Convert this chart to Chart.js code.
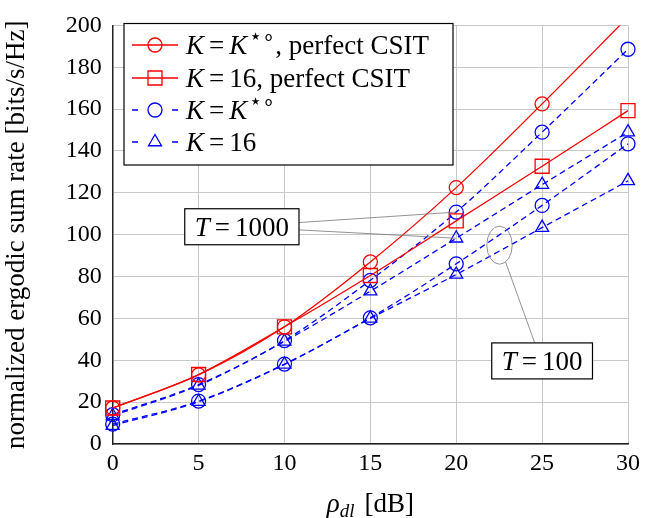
<!DOCTYPE html>
<html>
<head>
<meta charset="utf-8">
<script src="https://cdn.jsdelivr.net/npm/chart.js@4.4.1/dist/chart.umd.min.js"></script>
<style>
  html, body { margin: 0; padding: 0; background: #fff; }
</style>
</head>
<body>
<canvas id="rateChart" width="645" height="518"></canvas>
<script>
// x values (rho_dl in dB) and the series
const snrDb = [0, 5, 10, 15, 20, 25, 30];
const koptPerfect = [17.2, 33, 56, 87, 122.5, 162.5, 204];
const k16Perfect = [17.2, 33.2, 56, 80.5, 106.6, 132.7, 159.3];
const koptT1000 = [14, 28.4, 49.4, 78.2, 110.8, 149, 188.6];
const k16T1000 = [13.5, 28, 49, 73, 98.3, 123.9, 149];
const koptT100 = [9.5, 20.5, 38.2, 60.3, 86.1, 114, 143.4];
const k16T100 = [8.8, 20.2, 38, 60, 81, 103.4, 125.7];

const xTicks = [0, 5, 10, 15, 20, 25, 30];
const yTicks = [0, 20, 40, 60, 80, 100, 120, 140, 160, 180, 200];

const RED = '#ff0000';
const BLUE = '#0000ff';
const SERIF = '"Liberation Serif", "Times New Roman", serif';
const DASH = [6, 4];
const FS = 27; // text size used in legend, callouts and titles

function pts(values) {
  return snrDb.map((x, i) => ({ x: x, y: values[i] }));
}

function series(values, color, style, radius, dashed, clip) {
  return {
    data: pts(values),
    borderColor: color,
    borderWidth: 1.3,
    borderDash: dashed ? DASH : [],
    pointStyle: style,
    pointRadius: radius,
    pointBorderWidth: 1.3,
    pointBorderColor: color,
    pointBackgroundColor: 'rgba(0,0,0,0)',
    cubicInterpolationMode: 'monotone',
    fill: false,
    clip: clip || { left: 14, right: 14, top: 14, bottom: 14 }
  };
}

// draw a run of text pieces (italic math letters, super/subscripts)
function drawPieces(ctx, x, y, pieces) {
  let cx = x;
  pieces.forEach(p => {
    ctx.font = (p.italic ? 'italic ' : '') + p.size + 'px ' + SERIF;
    ctx.fillText(p.text, cx, y + (p.dy || 0));
    cx += ctx.measureText(p.text).width + (p.gap || 0);
  });
  return cx;
}

function piecesWidth(ctx, pieces) {
  let w = 0;
  pieces.forEach(p => {
    ctx.font = (p.italic ? 'italic ' : '') + p.size + 'px ' + SERIF;
    w += ctx.measureText(p.text).width + (p.gap || 0);
  });
  return w;
}

function kEquals(rest) {
  return [{ text: 'K', italic: true, size: FS, gap: 5 }, { text: '=', size: FS, gap: 5 }].concat(rest);
}
const kStar = [{ text: 'K', italic: true, size: FS, gap: 2 }, { text: '\u22C6\u2218', size: 21, dy: -11, gap: 0 }];

const legendRows = [
  { color: RED, dashed: false, style: 'circle', radius: 7,
    label: kEquals(kStar.concat([{ text: ', perfect CSIT', size: FS }])) },
  { color: RED, dashed: false, style: 'rect', radius: 9.9,
    label: kEquals([{ text: '16, perfect CSIT', size: FS }]) },
  { color: BLUE, dashed: true, style: 'circle', radius: 7, label: kEquals(kStar) },
  { color: BLUE, dashed: true, style: 'triangle', radius: 7.5,
    label: kEquals([{ text: '16', size: FS }]) }
];

function mathLabel(letter, value) {
  return [
    { text: letter, italic: true, size: FS, gap: 5 }, { text: '=', size: FS, gap: 5 },
    { text: value, size: FS }
  ];
}

function callout(ctx, cx, cy, pieces, w) {
  ctx.fillStyle = '#fff';
  ctx.fillRect(cx - w / 2, cy - 18, w, 36);
  ctx.strokeStyle = '#000';
  ctx.lineWidth = 1.2;
  ctx.strokeRect(cx - w / 2, cy - 18, w, 36);
  ctx.fillStyle = '#000';
  const tw = piecesWidth(ctx, pieces);
  drawPieces(ctx, cx - tw / 2, cy + 9, pieces);
}

const overlayPlugin = {
  id: 'overlay',
  afterDatasetsDraw(chart) {
    const ctx = chart.ctx;
    const xs = chart.scales.x;
    const ys = chart.scales.y;
    ctx.save();
    ctx.textBaseline = 'alphabetic';

    // T = 1000 callout
    const t1 = mathLabel('T', '1000');
    const w1 = piecesWidth(ctx, t1) + 20;
    const c1x = xs.getPixelForValue(7.52);
    const c1y = ys.getPixelForValue(103.8);
    const r1 = c1x + w1 / 2;
    ctx.strokeStyle = '#777';
    ctx.lineWidth = 0.8;
    ctx.beginPath();
    ctx.moveTo(r1, ys.getPixelForValue(105.8));
    ctx.lineTo(xs.getPixelForValue(snrDb[4]), ys.getPixelForValue(koptT1000[4]));
    ctx.moveTo(r1, ys.getPixelForValue(102.3));
    ctx.lineTo(xs.getPixelForValue(snrDb[4]), ys.getPixelForValue(k16T1000[4]));
    ctx.stroke();
    callout(ctx, c1x, c1y, t1, w1);

    // T = 100 callout with ellipse
    const t2 = mathLabel('T', '100');
    const w2 = piecesWidth(ctx, t2) + 20;
    const c2x = xs.getPixelForValue(25.0);
    const c2y = ys.getPixelForValue(39.7);
    const ex = xs.getPixelForValue(22.52);
    const ey = ys.getPixelForValue(95);
    const rx = 12.7, ry = 19;
    const tx = xs.getPixelForValue(24.57);
    const ty = c2y - 18;
    const dx = tx - ex, dy = ty - ey;
    const t = 1 / Math.sqrt((dx / rx) ** 2 + (dy / ry) ** 2);
    ctx.strokeStyle = '#777';
    ctx.lineWidth = 0.8;
    ctx.beginPath();
    ctx.ellipse(ex, ey, rx, ry, 0, 0, Math.PI * 2);
    ctx.moveTo(ex + dx * t, ey + dy * t);
    ctx.lineTo(tx, ty);
    ctx.stroke();
    callout(ctx, c2x, c2y, t2, w2);

    // legend
    const lx = 124, ly = 23.5, lw = 329, lh = 141.5;
    ctx.fillStyle = '#fff';
    ctx.fillRect(lx, ly, lw, lh);
    ctx.strokeStyle = '#000';
    ctx.lineWidth = 1.2;
    ctx.strokeRect(lx, ly, lw, lh);
    const rowY = [45, 78, 110, 142];
    legendRows.forEach((row, i) => {
      const y = rowY[i];
      ctx.strokeStyle = row.color;
      ctx.lineWidth = 1.3;
      ctx.beginPath();
      if (row.dashed) {
        ctx.moveTo(132, y); ctx.lineTo(138, y);
        ctx.moveTo(172, y); ctx.lineTo(178, y);
      } else {
        ctx.moveTo(132, y); ctx.lineTo(178, y);
      }
      ctx.stroke();
      ctx.fillStyle = 'rgba(0,0,0,0)';
      Chart.helpers.drawPoint(ctx, { pointStyle: row.style, radius: row.radius, borderWidth: 1.3 }, 155, y);
      ctx.fillStyle = '#000';
      drawPieces(ctx, 186, y + 9, row.label);
    });

    // x axis title: rho_dl [dB]
    const xt = [
      { text: '\u03C1', italic: true, size: FS, gap: 0 },
      { text: 'dl', italic: true, size: 19, dy: 5, gap: 10 },
      { text: '[dB]', size: FS }
    ];
    const xw = piecesWidth(ctx, xt);
    ctx.fillStyle = '#000';
    drawPieces(ctx, (xs.left + xs.right) / 2 - xw / 2, 512, xt);
    ctx.restore();
  }
};

const ctx = document.getElementById('rateChart').getContext('2d');
const rateChart = new Chart(ctx, {
  type: 'line',
  data: {
    datasets: [
      series(koptPerfect, RED, 'circle', 7, false, { left: 14, right: 14, top: 0, bottom: 14 }),
      series(k16Perfect, RED, 'rect', 9.9, false),
      series(koptT1000, BLUE, 'circle', 7, true),
      series(k16T1000, BLUE, 'triangle', 7.5, true),
      series(koptT100, BLUE, 'circle', 7, true),
      series(k16T100, BLUE, 'triangle', 7.5, true)
    ]
  },
  options: {
    responsive: false,
    animation: false,
    devicePixelRatio: 1,
    layout: { padding: { left: 0, right: 14.3, top: 14.5, bottom: 0 } },
    plugins: { legend: { display: false }, tooltip: { enabled: false } },
    scales: {
      x: {
        type: 'linear',
        min: 0,
        max: 30,
        afterFit: s => { s.height = 74; },
        afterBuildTicks: s => { s.ticks = xTicks.map(v => ({ value: v })); },
        ticks: { color: '#000', font: { family: SERIF, size: 24 }, padding: 5, maxRotation: 0 },
        grid: { color: '#c8c8c8', lineWidth: 1, drawTicks: false },
        border: { color: '#222', width: 1.5 }
      },
      y: {
        min: 0,
        max: 200,
        afterFit: s => { s.width = 112.7; },
        afterBuildTicks: s => { s.ticks = yTicks.map(v => ({ value: v })); },
        ticks: { color: '#000', font: { family: SERIF, size: 24 }, padding: 11 },
        grid: { color: '#c8c8c8', lineWidth: 1, drawTicks: false },
        border: { color: '#222', width: 1.5 },
        title: {
          display: true,
          text: 'normalized ergodic sum rate [bits/s/Hz]',
          color: '#000',
          font: { family: SERIF, size: FS },
          padding: { top: 1, bottom: 0 }
        }
      }
    }
  },
  plugins: [overlayPlugin]
});
</script>
</body>
</html>
